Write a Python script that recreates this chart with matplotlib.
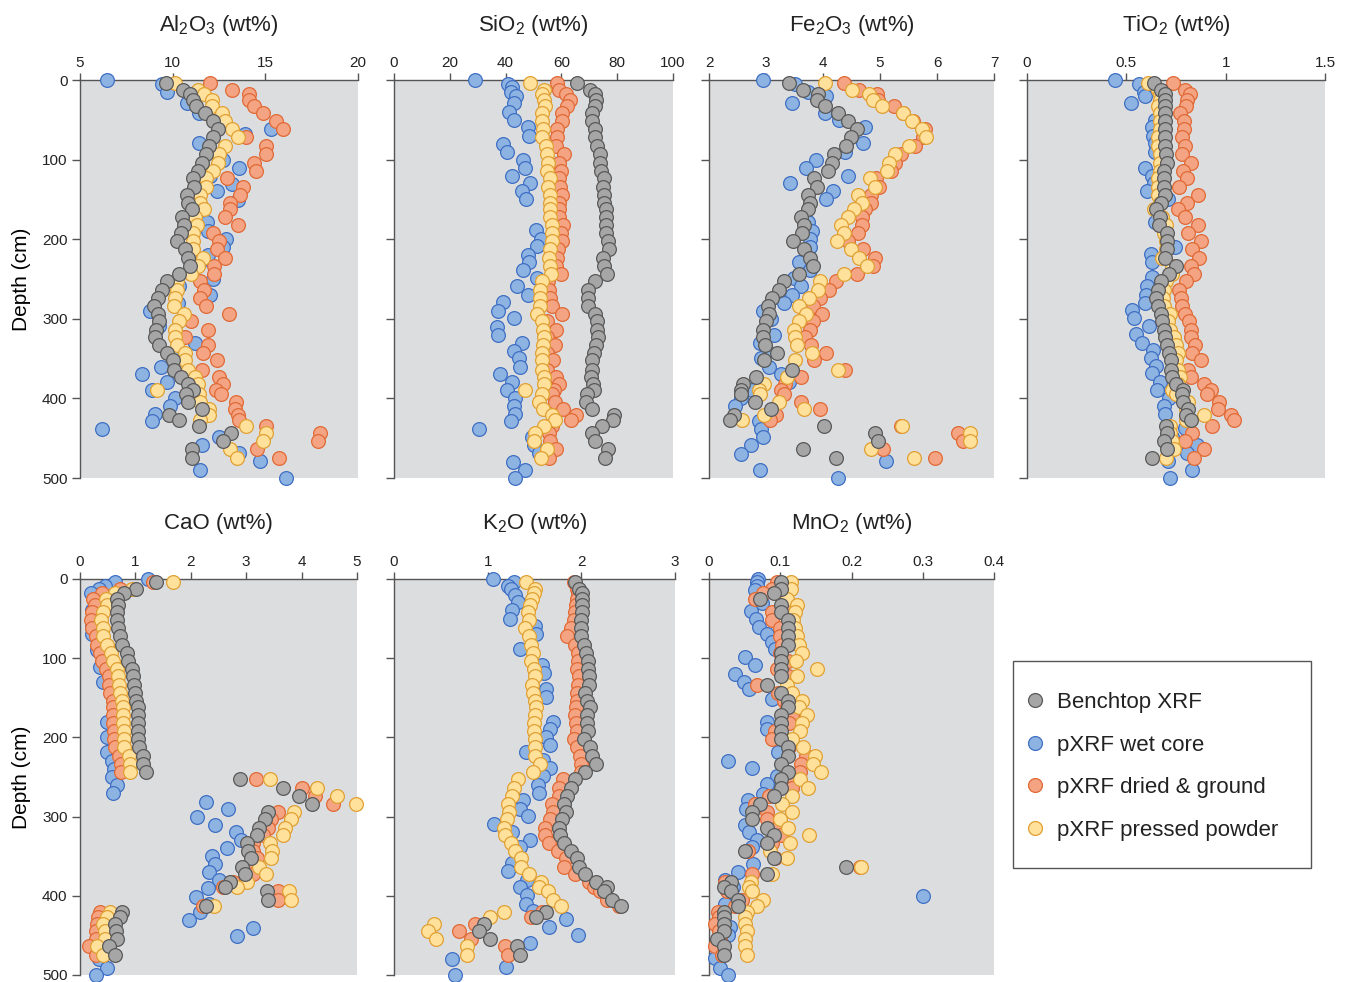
import matplotlib
matplotlib.use("Agg")
import matplotlib.pyplot as plt
from matplotlib.lines import Line2D
from matplotlib.patches import Rectangle

plt.rcParams['font.family'] = ['Liberation Sans', 'DejaVu Sans']
plt.rcParams['mathtext.fontset'] = 'custom'
plt.rcParams['mathtext.rm'] = 'Liberation Sans'
plt.rcParams['mathtext.it'] = 'Liberation Sans'

# ---------------- data ----------------
# sample depths (cm) for benchtop XRF, dried & ground, pressed powder
depth_lab = [4, 12, 18, 25, 33, 42, 52, 62, 72, 83, 93, 104, 114, 123, 134, 144, 154, 162, 172, 182,
             192, 202, 212, 223, 234, 244, 253, 264, 274, 284, 294, 303, 314, 323, 333, 343, 352, 364,
             373, 382, 389, 394, 405, 413, 421, 427, 435, 444, 454, 464, 475]

al2o3_bench = [9.65, 10.55, 10.95, 11.08, 11.26, 11.76, 12.16, 12.46, 12.16, 11.96, 11.78, 11.56, 11.35, 11.08,
               11.13, 10.75, 10.84, 11.04, 10.53, 10.62, 10.44, 10.23, 10.64, 10.84, 10.95, 10.32, 9.69, 9.45,
               9.2, 9.0, 9.2, 9.24, 9.09, 9.06, 9.27, 9.72, 10.01, 10.05, 10.44, 10.84, 11.08, 10.73, 10.84,
               11.58, 9.81, 10.34, 11.44, 13.17, 12.7, 11.06, 11.06]
al2o3_dry = [12.03, 13.2, 14.14, 14.14, 14.4, 14.9, 15.58, 15.96, 13.96, 15.06, 15.06, 14.4, 14.52, 12.93, 13.8,
             13.65, 13.08, 13.08, 12.84, 13.5, 12.16, 12.48, 12.4, 12.82, 12.21, 12.25, 11.49, 11.67, 11.49, 11.8,
             13.02, 11.0, 11.9, 10.68, 11.9, 11.63, 12.37, 11.58, 12.48, 12.72, 12.32, 12.63, 13.44, 13.38, 13.5,
             13.56, 15.04, 17.93, 17.84, 14.57, 15.73]
al2o3_pressed = [10.1, 11.35, 11.67, 12.12, 12.12, 12.64, 12.82, 13.22, 13.5, 12.8, 12.5, 12.43, 12.2, 11.8, 11.8,
                 11.49, 11.45, 11.67, 11.22, 11.31, 11.1, 11.1, 11.1, 11.63, 11.36, 11.0, 10.23, 10.23, 10.1, 10.08,
                 10.59, 10.35, 10.14, 10.14, 10.23, 10.68, 10.68, 10.82, 11.22, 11.35, 9.15, 11.4, 11.45, 11.94,
                 11.94, 11.45, 13.98, 15.04, 14.88, 13.11, 13.47]
al2o3_wet_depth = [0, 5, 15, 29, 41, 61, 68, 79, 100, 110, 120, 131, 140, 151, 179, 190, 200, 210, 220, 229, 250,
                   259, 270, 280, 290, 309, 330, 341, 360, 369, 379, 389, 400, 409, 419, 429, 439, 449, 459, 469,
                   479, 490, 500]
al2o3_wet = [6.48, 9.4, 9.7, 10.8, 11.4, 15.3, 13.9, 11.4, 12.7, 13.6, 12.0, 13.2, 12.4, 13.5, 11.85, 11.9, 12.9,
             12.7, 11.9, 11.45, 12.2, 10.35, 12.0, 10.3, 8.75, 9.27, 11.2, 10.2, 9.38, 8.35, 9.7, 8.9, 10.1, 9.83,
             9.06, 8.88, 6.17, 12.5, 11.6, 13.6, 14.7, 11.5, 16.1]

sio2_bench = [65.6, 70.3, 72.0, 72.4, 72.0, 71.1, 71.1, 72.0, 72.0, 72.6, 73.8, 74.0, 74.3, 75.2, 74.8, 75.2, 75.4,
              76.0, 76.1, 76.1, 75.9, 76.7, 77.1, 74.8, 75.4, 76.5, 72.2, 69.7, 69.5, 69.5, 72.2, 72.7, 72.9, 73.2,
              72.4, 71.7, 70.8, 70.8, 70.7, 71.3, 71.6, 69.2, 68.9, 71.1, 78.7, 78.5, 74.6, 71.1, 72.1, 76.7, 75.8]
sio2_dry = [58.6, 59.1, 61.8, 63.1, 62.1, 60.1, 60.1, 58.6, 58.3, 58.0, 60.9, 59.1, 59.7, 59.1, 59.6, 60.3, 59.1,
            59.1, 59.1, 60.7, 59.7, 60.1, 58.8, 58.6, 58.0, 59.7, 55.3, 55.6, 55.8, 56.8, 60.1, 55.0, 58.0, 55.0,
            57.6, 55.0, 57.1, 55.0, 58.0, 59.1, 57.4, 56.5, 57.7, 60.7, 65.3, 63.4, 56.8, 55.6, 55.8, 58.0, 55.6]
sio2_pressed = [48.7, 53.6, 53.2, 53.6, 54.2, 53.2, 53.2, 53.4, 53.2, 54.4, 55.0, 55.3, 54.8, 55.8, 55.2, 55.8,
                55.9, 55.8, 55.8, 56.5, 56.5, 56.8, 55.8, 55.6, 55.8, 56.4, 53.2, 52.5, 52.5, 52.3, 51.1, 53.2,
                53.4, 53.6, 53.4, 52.9, 53.0, 53.2, 53.7, 53.6, 46.9, 53.0, 51.8, 53.4, 56.8, 57.6, 53.6, 50.6,
                50.2, 55.0, 52.6]
sio2_wet_depth = [0, 5, 9, 15, 20, 29, 40, 50, 59, 70, 80, 90, 100, 110, 120, 130, 140, 150, 189, 200, 209, 220,
                  229, 239, 249, 259, 270, 279, 290, 299, 310, 320, 330, 340, 349, 360, 369, 379, 389, 400, 410,
                  419, 429, 439, 449, 459, 469, 480, 490, 500]
sio2_wet = [28.9, 40.7, 42.3, 41.8, 43.7, 43.1, 41.3, 42.9, 47.9, 48.5, 39.2, 40.4, 46.3, 47.0, 42.2, 48.8, 45.8,
            47.3, 50.8, 52.6, 51.2, 47.9, 48.5, 46.4, 51.1, 44.1, 48.2, 39.2, 37.2, 42.9, 36.8, 37.2, 45.8, 43.1,
            44.7, 45.1, 38.0, 42.3, 40.4, 43.5, 43.1, 43.5, 41.9, 30.6, 49.6, 50.2, 52.0, 42.5, 46.9, 43.5]

fe2o3_bench = [3.40, 3.65, 3.91, 3.90, 4.04, 4.27, 4.44, 4.60, 4.49, 4.41, 4.19, 4.15, 4.08, 3.84, 3.89, 3.74,
               3.77, 3.73, 3.61, 3.67, 3.63, 3.47, 3.66, 3.77, 3.83, 3.58, 3.31, 3.22, 3.11, 3.03, 3.06, 3.00,
               2.95, 2.94, 2.98, 3.20, 2.97, 3.45, 2.82, 2.60, 2.57, 2.57, 2.80, 3.09, 2.44, 2.37, 4.01, 4.91,
               4.96, 3.65, 4.22]
fe2o3_dry = [4.37, 4.63, 4.94, 4.97, 5.25, 5.41, 5.58, 5.79, 5.76, 5.61, 5.36, 5.27, 5.20, 4.93, 4.99, 4.84, 4.85,
             4.74, 4.68, 4.68, 4.62, 4.44, 4.71, 4.91, 4.88, 4.59, 4.22, 4.11, 3.95, 3.82, 3.98, 3.82, 3.78, 3.68,
             3.79, 4.05, 3.85, 4.39, 3.61, 3.33, 3.26, 3.32, 3.61, 3.95, 3.18, 3.07, 5.37, 6.37, 6.46, 5.06, 5.96]
fe2o3_pressed = [4.04, 4.51, 4.80, 4.87, 5.04, 5.41, 5.57, 5.73, 5.80, 5.51, 5.26, 5.16, 5.13, 4.82, 4.91, 4.61,
                 4.68, 4.54, 4.43, 4.31, 4.37, 4.25, 4.49, 4.64, 4.78, 4.37, 3.94, 3.91, 3.75, 3.58, 3.70, 3.58,
                 3.49, 3.51, 3.55, 3.81, 3.51, 4.26, 3.37, 2.96, 2.87, 2.90, 3.22, 3.67, 2.96, 2.58, 5.38, 6.58,
                 6.58, 4.85, 5.60]
fe2o3_wet_depth = [0, 5, 15, 20, 29, 41, 50, 59, 79, 90, 100, 110, 120, 130, 140, 150, 179, 190, 200, 210, 229,
                   239, 249, 259, 270, 280, 290, 300, 320, 330, 341, 349, 360, 369, 379, 389, 400, 409, 429, 439,
                   449, 459, 470, 479, 490, 500]
fe2o3_wet = [2.94, 3.51, 3.74, 4.05, 3.45, 4.04, 4.28, 4.74, 4.71, 4.39, 3.87, 3.71, 4.43, 3.42, 4.17, 4.05, 3.74,
             3.80, 3.78, 3.77, 3.58, 3.77, 3.49, 3.61, 3.46, 3.32, 2.95, 3.09, 3.14, 2.89, 3.01, 2.91, 3.05, 3.27,
             3.41, 2.75, 2.57, 2.46, 2.88, 2.92, 2.94, 2.73, 2.57, 5.10, 2.89, 4.27]

tio2_bench = [0.638, 0.677, 0.694, 0.697, 0.697, 0.697, 0.697, 0.697, 0.697, 0.697, 0.702, 0.707, 0.689, 0.689,
              0.689, 0.697, 0.677, 0.648, 0.669, 0.665, 0.707, 0.707, 0.707, 0.697, 0.748, 0.716, 0.677, 0.657,
              0.648, 0.657, 0.677, 0.682, 0.689, 0.697, 0.707, 0.716, 0.727, 0.727, 0.731, 0.749, 0.786, 0.778,
              0.786, 0.811, 0.798, 0.825, 0.699, 0.707, 0.689, 0.707, 0.627]
tio2_dry = [0.736, 0.795, 0.820, 0.803, 0.798, 0.769, 0.791, 0.791, 0.778, 0.795, 0.778, 0.828, 0.786, 0.803,
            0.764, 0.862, 0.803, 0.758, 0.795, 0.862, 0.808, 0.875, 0.833, 0.865, 0.828, 0.840, 0.798, 0.766,
            0.774, 0.781, 0.795, 0.816, 0.825, 0.828, 0.845, 0.832, 0.875, 0.808, 0.825, 0.892, 0.926, 0.904,
            0.966, 0.959, 1.026, 1.043, 0.929, 0.832, 0.795, 0.892, 0.840]
tio2_pressed = [0.61, 0.66, 0.67, 0.67, 0.66, 0.67, 0.67, 0.67, 0.66, 0.66, 0.67, 0.67, 0.67, 0.66, 0.66, 0.66,
                0.67, 0.64, 0.68, 0.70, 0.69, 0.70, 0.70, 0.68, 0.73, 0.73, 0.70, 0.69, 0.685, 0.69, 0.72, 0.71,
                0.72, 0.74, 0.75, 0.76, 0.75, 0.76, 0.77, 0.76, 0.73, 0.75, 0.81, 0.80, 0.89, 0.80, 0.72, 0.72,
                0.73, 0.74, 0.70]
tio2_wet_depth = [0, 5, 15, 20, 29, 50, 59, 70, 79, 90, 110, 120, 130, 140, 150, 179, 210, 219, 229, 248, 259, 270,
                  280, 289, 299, 309, 319, 330, 339, 349, 359, 368, 379, 389, 400, 409, 419, 437, 448, 459, 469,
                  479, 490, 500]
tio2_wet = [0.442, 0.563, 0.590, 0.596, 0.526, 0.643, 0.627, 0.632, 0.643, 0.643, 0.596, 0.627, 0.640, 0.606,
            0.711, 0.643, 0.744, 0.623, 0.630, 0.627, 0.606, 0.601, 0.593, 0.529, 0.538, 0.613, 0.551, 0.580,
            0.632, 0.622, 0.647, 0.630, 0.669, 0.652, 0.716, 0.690, 0.697, 0.795, 0.731, 0.858, 0.803, 0.711,
            0.832, 0.722]

cao_bench = [1.37, 1.01, 0.80, 0.67, 0.69, 0.67, 0.67, 0.68, 0.72, 0.75, 0.84, 0.86, 0.93, 0.95, 0.98, 0.99, 1.01,
             1.04, 1.04, 1.04, 1.05, 1.05, 1.07, 1.14, 1.14, 1.19, 2.89, 3.66, 3.95, 4.19, 3.40, 3.34, 3.24, 3.19,
             3.01, 3.04, 3.08, 2.92, 2.98, 2.71, 2.62, 3.37, 3.39, 2.27, 0.75, 0.72, 0.63, 0.65, 0.66, 0.53, 0.63]
cao_dry = [1.31, 0.72, 0.39, 0.24, 0.27, 0.21, 0.19, 0.21, 0.29, 0.30, 0.36, 0.39, 0.47, 0.53, 0.53, 0.54, 0.59,
           0.60, 0.59, 0.60, 0.61, 0.61, 0.63, 0.71, 0.74, 0.74, 3.17, 4.01, 4.25, 4.57, 3.58, 3.45, 3.40, 3.31,
           3.13, 3.13, 3.19, 3.01, 3.13, 2.77, 2.59, 3.58, 3.57, 2.22, 0.37, 0.33, 0.30, 0.29, 0.29, 0.17, 0.29]
cao_pressed = [1.67, 0.93, 0.63, 0.47, 0.48, 0.41, 0.38, 0.41, 0.42, 0.48, 0.56, 0.59, 0.66, 0.69, 0.71, 0.72,
               0.75, 0.77, 0.77, 0.77, 0.80, 0.80, 0.80, 0.89, 0.90, 0.90, 3.43, 4.27, 4.64, 4.99, 3.87, 3.80,
               3.70, 3.66, 3.43, 3.46, 3.45, 3.24, 3.36, 3.01, 2.84, 3.77, 3.81, 2.41, 0.54, 0.48, 0.42, 0.45,
               0.45, 0.30, 0.41]
cao_wet_depth = [0, 4, 9, 13, 18, 39, 60, 70, 90, 111, 130, 180, 200, 219, 230, 240, 250, 260, 270, 281, 290, 300,
                 310, 320, 330, 340, 350, 360, 370, 380, 390, 401, 410, 420, 430, 441, 451, 459, 480, 491, 500]
cao_wet = [1.22, 0.63, 0.45, 0.35, 0.19, 0.21, 0.21, 0.21, 0.31, 0.37, 0.41, 0.48, 0.48, 0.48, 0.57, 0.62, 0.57,
           0.67, 0.59, 2.27, 2.68, 2.12, 2.44, 2.81, 2.91, 2.65, 2.39, 2.44, 2.33, 2.51, 2.31, 2.09, 2.33, 2.17,
           1.96, 3.13, 2.84, 0.54, 0.34, 0.48, 0.29]

k2o_bench = [1.93, 1.98, 2.01, 2.01, 2.01, 2.01, 2.00, 2.00, 2.00, 2.03, 2.05, 2.07, 2.07, 2.08, 2.08, 2.04, 2.06,
             2.09, 2.06, 2.06, 2.07, 2.03, 2.09, 2.11, 2.16, 2.04, 1.93, 1.89, 1.85, 1.81, 1.84, 1.79, 1.76, 1.77,
             1.81, 1.89, 1.95, 1.98, 2.04, 2.16, 2.27, 2.24, 2.33, 2.42, 1.62, 1.52, 0.96, 0.91, 1.03, 1.31, 1.34]
k2o_dry = [1.92, 1.95, 1.96, 1.95, 1.94, 1.93, 1.92, 1.89, 1.85, 1.93, 1.96, 1.96, 1.95, 1.97, 1.96, 1.95, 1.95,
           1.94, 1.93, 1.94, 1.95, 1.92, 1.95, 1.99, 2.00, 2.00, 1.80, 1.76, 1.76, 1.69, 1.70, 1.67, 1.61, 1.61,
           1.65, 1.75, 1.84, 1.81, 1.93, 2.08, 2.13, 2.20, 2.27, 2.40, 1.58, 1.46, 0.87, 0.69, 0.82, 1.18, 1.22]
k2o_pressed = [1.41, 1.50, 1.49, 1.47, 1.45, 1.43, 1.44, 1.40, 1.44, 1.46, 1.48, 1.46, 1.49, 1.50, 1.47, 1.48,
               1.51, 1.52, 1.51, 1.49, 1.49, 1.50, 1.50, 1.51, 1.56, 1.48, 1.32, 1.28, 1.26, 1.22, 1.23, 1.21,
               1.17, 1.18, 1.25, 1.29, 1.36, 1.36, 1.44, 1.57, 1.55, 1.64, 1.70, 1.78, 1.17, 1.02, 0.43, 0.36,
               0.45, 0.78, 0.78]
k2o_wet_depth = [0, 4, 9, 13, 20, 29, 39, 50, 59, 70, 89, 109, 119, 139, 149, 180, 189, 200, 209, 219, 229, 239,
                 249, 260, 270, 279, 290, 299, 309, 320, 329, 339, 359, 369, 380, 389, 399, 410, 419, 429, 440, 450,
                 459, 480, 490, 500]
k2o_wet = [1.06, 1.28, 1.22, 1.25, 1.29, 1.32, 1.26, 1.24, 1.51, 1.52, 1.35, 1.58, 1.60, 1.62, 1.62, 1.70, 1.67,
           1.62, 1.67, 1.41, 1.59, 1.67, 1.59, 1.54, 1.55, 1.38, 1.35, 1.43, 1.07, 1.26, 1.45, 1.35, 1.26, 1.22,
           1.42, 1.35, 1.42, 1.41, 1.48, 1.84, 1.65, 1.96, 1.45, 0.62, 1.20, 0.65]

mno2_bench = [0.101, 0.101, 0.091, 0.072, 0.101, 0.101, 0.111, 0.111, 0.111, 0.111, 0.101, 0.101, 0.101, 0.101,
              0.081, 0.101, 0.111, 0.111, 0.101, 0.101, 0.101, 0.101, 0.111, 0.111, 0.101, 0.111, 0.101, 0.101,
              0.091, 0.072, 0.061, 0.061, 0.081, 0.091, 0.081, 0.051, 0.091, 0.192, 0.081, 0.031, 0.021, 0.031,
              0.041, 0.041, 0.021, 0.021, 0.021, 0.021, 0.011, 0.021, 0.021]
mno2_dry = [0.095, 0.088, 0.076, 0.065, 0.109, 0.088, 0.088, 0.100, 0.100, 0.102, 0.100, 0.111, 0.096, 0.111,
            0.068, 0.097, 0.105, 0.110, 0.117, 0.112, 0.093, 0.089, 0.112, 0.136, 0.129, 0.128, 0.118, 0.117,
            0.084, 0.065, 0.082, 0.081, 0.097, 0.101, 0.089, 0.055, 0.093, 0.212, 0.061, 0.023, 0.023, 0.025,
            0.047, 0.036, 0.013, 0.014, 0.009, 0.014, 0.015, 0.009, 0.018]
mno2_pressed = [0.115, 0.115, 0.093, 0.110, 0.123, 0.121, 0.118, 0.121, 0.124, 0.126, 0.131, 0.122, 0.152, 0.123,
                0.109, 0.117, 0.131, 0.126, 0.137, 0.131, 0.128, 0.117, 0.132, 0.149, 0.146, 0.157, 0.128,
                0.139, 0.116, 0.103, 0.117, 0.100, 0.111, 0.140, 0.114, 0.086, 0.109, 0.213, 0.089, 0.059,
                0.056, 0.061, 0.076, 0.068, 0.053, 0.051, 0.051, 0.054, 0.051, 0.050, 0.053]
mno2_wet_depth = [0, 4, 9, 14, 30, 40, 50, 60, 70, 79, 89, 99, 109, 120, 130, 139, 151, 180, 190, 219, 230, 239,
                  249, 259, 271, 279, 290, 310, 320, 330, 339, 360, 370, 380, 389, 400, 410, 440, 450, 479, 491, 500]
mno2_wet = [0.069, 0.067, 0.067, 0.064, 0.074, 0.059, 0.066, 0.070, 0.081, 0.089, 0.093, 0.051, 0.064, 0.037,
            0.049, 0.056, 0.088, 0.082, 0.082, 0.097, 0.027, 0.061, 0.095, 0.082, 0.076, 0.055, 0.052, 0.051,
            0.056, 0.068, 0.061, 0.062, 0.040, 0.022, 0.034, 0.301, 0.022, 0.029, 0.027, 0.009, 0.015, 0.027]

legend_labels = ["Benchtop XRF", "pXRF wet core", "pXRF dried & ground", "pXRF pressed powder"]
depth_ticks = [0, 100, 200, 300, 400, 500]

# ---------------- styling ----------------
W, H = 1348, 982
BG = '#dcdddf'
SPINE = '#555555'
styles = {
    'bench': dict(fc='#a6a6a6', ec='#595959'),
    'wet': dict(fc='#8db3e2', ec='#3f6fc4'),
    'dry': dict(fc='#f4a482', ec='#e06a36'),
    'pressed': dict(fc='#ffe19c', ec='#e0a033'),
}

panels = [
    # title, px left, px right, px top, px height, xlim, xticks, xticklabels, data
    (r'Al$_2$O$_3$ (wt%)', 80, 358, 80, 398, (5, 20), [5, 10, 15, 20], ['5', '10', '15', '20'],
     al2o3_bench, al2o3_wet_depth, al2o3_wet, al2o3_dry, al2o3_pressed, True),
    (r'SiO$_2$ (wt%)', 394, 673, 80, 398, (0, 100), [0, 20, 40, 60, 80, 100], ['0', '20', '40', '60', '80', '100'],
     sio2_bench, sio2_wet_depth, sio2_wet, sio2_dry, sio2_pressed, False),
    (r'Fe$_2$O$_3$ (wt%)', 709, 994, 80, 398, (2, 7), [2, 3, 4, 5, 6, 7], ['2', '3', '4', '5', '6', '7'],
     fe2o3_bench, fe2o3_wet_depth, fe2o3_wet, fe2o3_dry, fe2o3_pressed, False),
    (r'TiO$_2$ (wt%)', 1027, 1325, 80, 398, (0, 1.5), [0, 0.5, 1, 1.5], ['0', '0.5', '1', '1.5'],
     tio2_bench, tio2_wet_depth, tio2_wet, tio2_dry, tio2_pressed, False),
    (r'CaO (wt%)', 80, 357, 579, 396, (0, 5), [0, 1, 2, 3, 4, 5], ['0', '1', '2', '3', '4', '5'],
     cao_bench, cao_wet_depth, cao_wet, cao_dry, cao_pressed, True),
    (r'K$_2$O (wt%)', 394, 675, 579, 396, (0, 3), [0, 1, 2, 3], ['0', '1', '2', '3'],
     k2o_bench, k2o_wet_depth, k2o_wet, k2o_dry, k2o_pressed, False),
    (r'MnO$_2$ (wt%)', 709, 994, 579, 396, (0, 0.4), [0, 0.1, 0.2, 0.3, 0.4], ['0', '0.1', '0.2', '0.3', '0.4'],
     mno2_bench, mno2_wet_depth, mno2_wet, mno2_dry, mno2_pressed, False),
]

fig = plt.figure(figsize=(W / 100, H / 100), dpi=100)
MS = 98
LW = 0.9

for (title, xl, xr, yt, ah, xlim, xt, xtl, bench, wdep, wet, dry, pressed, left_col) in panels:
    ax = fig.add_axes([xl / W, 1 - (yt + ah) / H, (xr - xl) / W, ah / H])
    ax.set_facecolor(BG)
    ax.set_xlim(*xlim)
    ax.set_ylim(500, 0)
    for s in ['right', 'bottom']:
        ax.spines[s].set_visible(False)
    for s in ['left', 'top']:
        ax.spines[s].set_color(SPINE)
        ax.spines[s].set_linewidth(1.0)
    ax.xaxis.tick_top()
    ax.set_xticks(xt)
    ax.set_xticklabels(xtl)
    ax.set_yticks(depth_ticks)
    if left_col:
        ax.set_yticklabels([str(t) for t in depth_ticks])
        ax.set_ylabel('Depth (cm)', fontsize=15, labelpad=8)
    else:
        ax.set_yticklabels([])
    ax.tick_params(axis='x', direction='out', length=5, width=1, color=SPINE, labelsize=11, pad=2,
                   labelcolor='#222222')
    ax.tick_params(axis='y', direction='out', length=6, width=1, color=SPINE, labelsize=11, pad=3,
                   labelcolor='#222222')

    ax.scatter(wet, wdep, s=MS, facecolor=styles['wet']['fc'], edgecolor=styles['wet']['ec'],
               linewidth=LW, clip_on=False, zorder=3)
    ax.scatter(dry, depth_lab, s=MS, facecolor=styles['dry']['fc'], edgecolor=styles['dry']['ec'],
               linewidth=LW, clip_on=False, zorder=4)
    ax.scatter(pressed, depth_lab, s=MS, facecolor=styles['pressed']['fc'], edgecolor=styles['pressed']['ec'],
               linewidth=LW, clip_on=False, zorder=5)
    ax.scatter(bench, depth_lab, s=MS, facecolor=styles['bench']['fc'], edgecolor=styles['bench']['ec'],
               linewidth=LW, clip_on=False, zorder=6)

    fig.text((xl + xr) / 2 / W, 1 - (yt - 55) / H, title, ha='center', va='center', fontsize=16,
             color='#222222')

# legend frame drawn as a figure rectangle, entries placed inside
fig.patches.append(Rectangle((1013 / W, 1 - 868 / H), (1311 - 1013) / W, (868 - 661) / H,
                             transform=fig.transFigure, facecolor='white', edgecolor=SPINE,
                             linewidth=1.0, zorder=1))
handles = []
for key in ['bench', 'wet', 'dry', 'pressed']:
    handles.append(Line2D([], [], linestyle='none', marker='o', markersize=10,
                          markerfacecolor=styles[key]['fc'], markeredgecolor=styles[key]['ec'],
                          markeredgewidth=LW))
leg = fig.legend(handles, legend_labels, loc='upper left',
                 bbox_to_anchor=(1024 / W, 1 - 692 / H), fontsize=16, frameon=False,
                 borderpad=0, labelspacing=0.97, handletextpad=0.5, handlelength=1.0,
                 borderaxespad=0)
leg.set_zorder(5)
for t in leg.get_texts():
    t.set_color('#222222')

fig.savefig('out.png', dpi=100)
